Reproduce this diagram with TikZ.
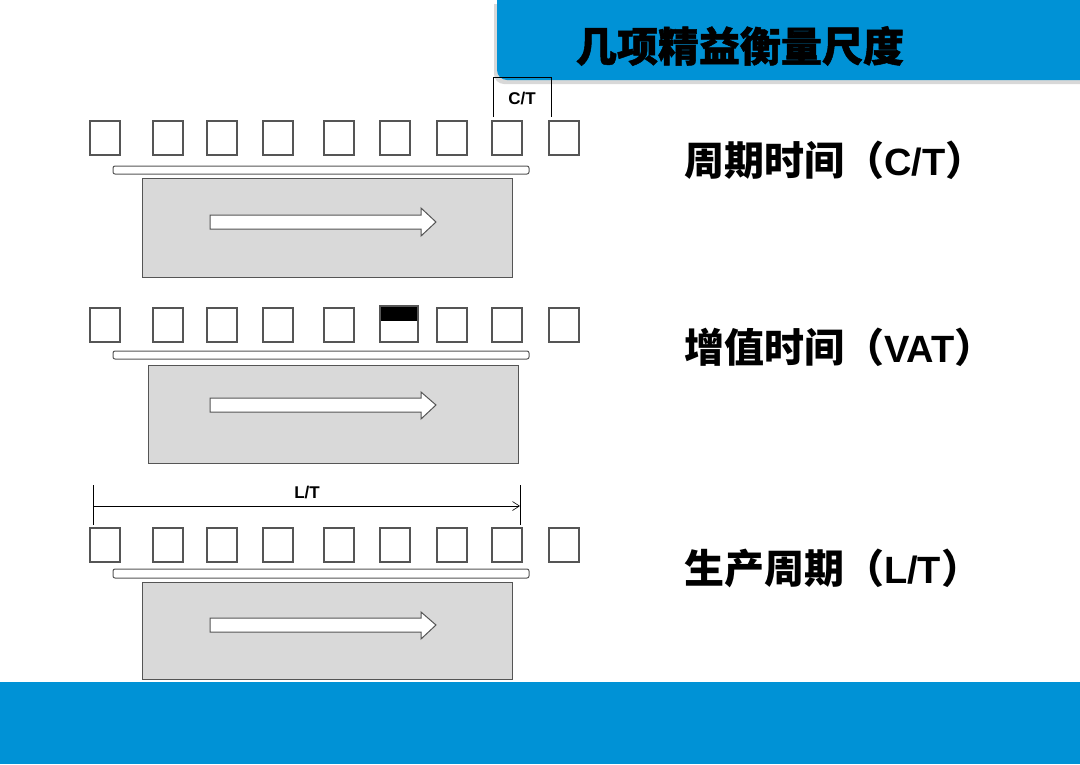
\documentclass[tikz,border=0pt]{standalone}
\usepackage{fontspec}
\setmainfont{Liberation Sans}
\newfontfamily\cjk{Noto Sans CJK SC}
\newfontfamily\cjkheavy{Noto Sans CJK SC}[BoldFeatures={FakeBold=1.2}]
\usetikzlibrary{arrows.meta}
\definecolor{bandblue}{RGB}{0,146,214}
\definecolor{boxgray}{RGB}{217,217,217}
\definecolor{edgegray}{RGB}{85,85,85}
\tikzset{
  sq/.style={draw=edgegray, line width=1.1pt, fill=white, minimum width=30pt, minimum height=34pt, inner sep=0pt, outer sep=0pt},
  bar/.style={draw=edgegray, line width=1pt, fill=white, rounded corners=2pt},
  machine/.style={draw=edgegray, line width=1pt, fill=boxgray},
  flowarrow/.style={draw=edgegray, line width=1pt, fill=white},
  lbl/.style={anchor=west, inner sep=0pt, font=\cjk\bfseries\fontsize{40}{40}\selectfont},
  small/.style={inner sep=0pt, font=\bfseries\fontsize{17}{17}\selectfont},
  thin/.style={draw=black, line width=0.6pt}
}
\newcommand{\lat}[1]{{\fontspec{Liberation Sans}\bfseries\fontsize{38}{38}\selectfont #1}}
\begin{document}
\begin{tikzpicture}[x=1pt,y=-1pt]
\useasboundingbox (0,0) rectangle (1080,764);
\fill[white] (0,0) rectangle (1080,764);
% title banner
\fill[black!25, opacity=0.6] (494,4) [rounded corners=10pt]-- (494,84) [sharp corners]-- (1080,84) -- (1080,4) -- cycle;
\fill[bandblue] (497,0) [rounded corners=10pt]-- (497,80) [sharp corners]-- (1080,80) -- (1080,0) -- cycle;
\node[inner sep=0pt, font=\cjkheavy\bfseries\fontsize{41}{41}\selectfont] (title) at (740,46) {几项精益衡量尺度};
% bottom band
\fill[bandblue] (0,682) rectangle (1080,764);

% rows
\foreach \r/\top in {1/121, 2/308, 3/528}{
  \foreach \i/\cx in {1/105,2/168,3/222,4/278,5/339,6/395,7/452,8/507,9/564}{
    \node[sq] (s\r-\i) at (\cx,\top+17) {};
  }
}
% bars
\path[bar] (113,166) rectangle (529,174);
\path[bar] (113,351) rectangle (529,359);
\path[bar] (113,569) rectangle (529,578);
% machines
\path[machine] (142,178) rectangle (512,277);
\path[machine] (148,365) rectangle (518,463);
\path[machine] (142,582) rectangle (512,679);
% white flow arrows
\path[flowarrow] (210,215) -- (421,215) -- (421,208) -- (436,222) -- (421,236) -- (421,229) -- (210,229) -- cycle;
\path[flowarrow] (210,398) -- (421,398) -- (421,392) -- (436,405) -- (421,419) -- (421,412) -- (210,412) -- cycle;
\path[flowarrow] (210,618) -- (421,618) -- (421,612) -- (436,625) -- (421,639) -- (421,632) -- (210,632) -- cycle;
% half-black square in row 2
\node[sq, minimum width=38pt, minimum height=36pt] (vat) at (399,324) {};
\fill[black] (380,306) rectangle (418,321);
\draw[edgegray, line width=1.1pt] (380,306) rectangle (418,342);

% C/T bracket
\coordinate (ct1) at (493,117);
\coordinate (ct2) at (493,77);
\coordinate (ct3) at (551,77);
\coordinate (ct4) at (551,117);
\draw[thin] (ct1) -- (ct2) -- (ct3) -- (ct4);
\node[small] (ctl) at (522,99) {C/T};

% L/T dimension
\coordinate (lt1a) at (93,485);
\coordinate (lt1b) at (93,525);
\coordinate (lt2a) at (520,485);
\coordinate (lt2b) at (520,525);
\coordinate (lts) at (93,506);
\coordinate (lte) at (520,506);
\draw[thin] (lt1a) -- (lt1b);
\draw[thin] (lt2a) -- (lt2b);
\draw[thin, -{Straight Barb[length=7pt,width=9pt]}] (lts) -- (lte);
\node[small] (ltl) at (307,493) {L/T};

% labels
\node[lbl] (l1) at (684,160) {周期时间（\lat{C/T}）};
\node[lbl] (l2) at (684,347) {增值时间（\lat{VAT}）};
\node[lbl] (l3) at (684,568) {生产周期（\lat{L/T}）};
\end{tikzpicture}
\end{document}
